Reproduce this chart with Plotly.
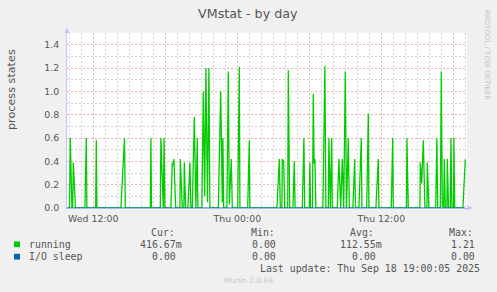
import plotly.graph_objects as go

# ---- data ----
running_time = [
    "2025-09-17 09:50", "2025-09-17 10:01", "2025-09-17 10:05", "2025-09-17 10:13", "2025-09-17 10:17",
    "2025-09-17 10:20", "2025-09-17 10:31", "2025-09-17 11:18", "2025-09-17 11:25", "2025-09-17 11:28",
    "2025-09-17 12:12", "2025-09-17 12:15", "2025-09-17 12:18", "2025-09-17 14:18", "2025-09-17 14:36",
    "2025-09-17 14:40", "2025-09-17 16:45", "2025-09-17 16:48", "2025-09-17 16:51", "2025-09-17 17:35",
    "2025-09-17 17:38", "2025-09-17 17:50", "2025-09-17 17:54", "2025-09-17 17:58", "2025-09-17 18:28",
    "2025-09-17 18:35", "2025-09-17 18:39", "2025-09-17 18:43", "2025-09-17 18:52", "2025-09-17 19:13",
    "2025-09-17 19:15", "2025-09-17 19:25", "2025-09-17 19:33", "2025-09-17 19:35", "2025-09-17 19:42",
    "2025-09-17 19:53", "2025-09-17 20:03", "2025-09-17 20:08", "2025-09-17 20:15", "2025-09-17 20:25",
    "2025-09-17 20:33", "2025-09-17 20:40", "2025-09-17 20:43", "2025-09-17 21:03", "2025-09-17 21:10",
    "2025-09-17 21:17", "2025-09-17 21:23", "2025-09-17 21:31", "2025-09-17 21:38", "2025-09-17 21:43",
    "2025-09-17 22:25", "2025-09-17 22:37", "2025-09-17 22:45", "2025-09-17 22:48", "2025-09-17 22:52",
    "2025-09-17 23:08", "2025-09-17 23:15", "2025-09-17 23:20", "2025-09-17 23:30", "2025-09-17 23:35",
    "2025-09-18 00:02", "2025-09-18 00:10", "2025-09-18 00:13", "2025-09-18 00:52", "2025-09-18 01:00",
    "2025-09-18 01:03", "2025-09-18 03:18", "2025-09-18 03:30", "2025-09-18 03:35", "2025-09-18 03:43",
    "2025-09-18 03:45", "2025-09-18 03:52", "2025-09-18 03:57", "2025-09-18 04:12", "2025-09-18 04:15",
    "2025-09-18 04:22", "2025-09-18 04:38", "2025-09-18 04:45", "2025-09-18 04:49", "2025-09-18 05:25",
    "2025-09-18 05:33", "2025-09-18 05:37", "2025-09-18 06:00", "2025-09-18 06:03", "2025-09-18 06:06",
    "2025-09-18 06:16", "2025-09-18 06:20", "2025-09-18 06:24", "2025-09-18 06:28", "2025-09-18 06:33",
    "2025-09-18 07:08", "2025-09-18 07:18", "2025-09-18 07:23", "2025-09-18 07:35", "2025-09-18 07:38",
    "2025-09-18 07:45", "2025-09-18 07:52", "2025-09-18 07:55", "2025-09-18 08:20", "2025-09-18 08:28",
    "2025-09-18 08:37", "2025-09-18 08:45", "2025-09-18 08:52", "2025-09-18 09:00", "2025-09-18 09:06",
    "2025-09-18 09:15", "2025-09-18 09:20", "2025-09-18 09:38", "2025-09-18 09:47", "2025-09-18 09:51",
    "2025-09-18 10:08", "2025-09-18 10:20", "2025-09-18 10:23", "2025-09-18 10:47", "2025-09-18 10:55",
    "2025-09-18 10:58", "2025-09-18 11:33", "2025-09-18 11:45", "2025-09-18 11:48", "2025-09-18 12:50",
    "2025-09-18 12:57", "2025-09-18 13:00", "2025-09-18 14:06", "2025-09-18 14:08", "2025-09-18 14:15",
    "2025-09-18 15:13", "2025-09-18 15:15", "2025-09-18 15:22", "2025-09-18 15:30", "2025-09-18 15:38",
    "2025-09-18 15:48", "2025-09-18 15:50", "2025-09-18 15:58", "2025-09-18 16:32", "2025-09-18 16:38",
    "2025-09-18 16:42", "2025-09-18 16:55", "2025-09-18 17:00", "2025-09-18 17:05", "2025-09-18 17:12",
    "2025-09-18 17:15", "2025-09-18 17:20", "2025-09-18 17:28", "2025-09-18 17:30", "2025-09-18 17:36",
    "2025-09-18 17:45", "2025-09-18 17:48", "2025-09-18 17:53", "2025-09-18 18:01", "2025-09-18 18:03",
    "2025-09-18 18:07", "2025-09-18 18:48", "2025-09-18 19:00",
]
running_vals = [
    0, 0, 0.60, 0, 0,
    0.39, 0, 0, 0.60, 0,
    0, 0.58, 0, 0, 0.60,
    0, 0, 0.60, 0, 0,
    0.60, 0, 0.60, 0, 0,
    0.39, 0.37, 0.42, 0, 0,
    0.42, 0, 0, 0.39, 0,
    0, 0.39, 0, 0, 0.78,
    0, 0.60, 0, 0, 1.00,
    0.10, 1.20, 0.05, 1.20, 0,
    0, 1.00, 0.05, 0.60, 0,
    0, 1.17, 0.03, 0.42, 0,
    0, 1.21, 0, 0, 0.58,
    0, 0, 0.42, 0, 0,
    0.42, 0.40, 0, 0, 1.18,
    0, 0, 0.40, 0, 0,
    0.60, 0, 0, 0.39, 0,
    0, 0.98, 0.38, 0.42, 0,
    0, 1.22, 0, 0, 0.60,
    0, 0.60, 0, 0, 0.42,
    0, 0.42, 0, 1.17, 0,
    0.60, 0, 0, 0.42, 0,
    0, 0.60, 0, 0, 0.81,
    0, 0, 0.42, 0, 0,
    0.60, 0, 0, 0.60, 0,
    0, 0.39, 0.21, 0.58, 0,
    0, 0.39, 0, 0, 0.60,
    0, 0, 1.17, 0.03, 0,
    0.42, 0, 0, 0.42, 0,
    0, 0.60, 0, 0, 0.60,
    0, 0, 0.4167,
]
io_time = ["2025-09-17 09:50", "2025-09-18 19:00"]
io_vals = [0.0, 0.0]

x_range = ["2025-09-17 09:48:30", "2025-09-18 19:08:30"]
x_tick_vals = ["2025-09-17 12:00", "2025-09-17 18:00", "2025-09-18 00:00",
               "2025-09-18 06:00", "2025-09-18 12:00", "2025-09-18 18:00"]
x_tick_text = ["Wed 12:00", "", "Thu 00:00", "", "Thu 12:00", ""]
y_tick_vals = [0.0, 0.2, 0.4, 0.6, 0.8, 1.0, 1.2, 1.4]
y_tick_text = ["0.0", "0.2", "0.4", "0.6", "0.8", "1.0", "1.2", "1.4"]

series_names = ["running", "I/O sleep"]
series_colors = ["#00CC00", "#0066B3"]
stat_headers = ["Cur:", "Min:", "Avg:", "Max:"]
stat_cur = ["416.67m", "0.00"]
stat_min = ["0.00", "0.00"]
stat_avg = ["112.55m", "0.00"]
stat_max = ["1.21", "0.00"]
last_update = "Last update: Thu Sep 18 19:00:05 2025"
version_text = "Munin 2.0.69"

# ---- layout geometry (pixels) ----
W, H = 497, 292
L, R, T, B = 67, 30, 33, 84
PW, PH = W - L - R, H - T - B

def px(x):
    return (x - L) / PW

def py(y):
    return (H - B - y) / PH

SANS = "DejaVu Sans"
MONO = "DejaVu Sans Mono"
TXT = "#555555"
MAJ = "#efb0b0"
MIN = "#d4d4d4"

fig = go.Figure()
fig.add_trace(go.Scatter(x=running_time, y=running_vals, mode="lines",
                         line=dict(color=series_colors[0], width=1.3),
                         name=series_names[0], hoverinfo="skip"))
fig.add_trace(go.Scatter(x=io_time, y=io_vals, mode="lines",
                         line=dict(color=series_colors[1], width=1.2),
                         name=series_names[1], hoverinfo="skip"))

fig.update_xaxes(
    type="date", range=x_range, tickmode="array", tickvals=x_tick_vals, ticktext=x_tick_text,
    showgrid=True, gridcolor=MAJ, griddash="2px,2px", gridwidth=1,
    minor=dict(dtick=3600000, tick0="2025-09-17 00:00", showgrid=True,
               gridcolor=MIN, griddash="2px,2px", gridwidth=1, ticks=""),
    ticks="", ticklabelstandoff=2,
    tickfont=dict(family=SANS, size=9.4, color=TXT),
    showline=True, linecolor="#a9b9ec", linewidth=1, zeroline=False, fixedrange=True,
)
fig.update_yaxes(
    range=[0, 1.5], tickmode="array", tickvals=y_tick_vals, ticktext=y_tick_text,
    showgrid=True, gridcolor=MAJ, griddash="2px,2px", gridwidth=1,
    minor=dict(dtick=0.1, tick0=0, showgrid=True, gridcolor=MIN,
               griddash="2px,2px", gridwidth=1, ticks=""),
    ticks="", ticklabelstandoff=5,
    tickfont=dict(family=SANS, size=9.4, color=TXT),
    showline=True, linecolor="#c4c6f2", linewidth=1, zeroline=False, fixedrange=True,
)

ann = []
def text(x, y, s, size, color=TXT, family=MONO, xanchor="left", angle=0):
    ann.append(dict(x=px(x), y=py(y), xref="paper", yref="paper", text=s, showarrow=False,
                    xanchor=xanchor, yanchor="middle", textangle=angle,
                    font=dict(family=family, size=size, color=color)))

text(248, 13.5, "VMstat - by day", 12.7, color="#555555", family=SANS, xanchor="center")
text(11, 89, "process states", 11.2, color="#555555", family=SANS, xanchor="center", angle=-90)
text(487, 55, "RRDTOOL / TOBI OETIKER", 7, color="#c4c4c4", family=SANS, xanchor="center", angle=90)

header_x = [149, 249, 348.3, 446.7]
col_end = [178.3, 278.3, 377.5, 476.7]
for hx, h in zip(header_x, stat_headers):
    text(hx, 232.7, h, 9.9)
row_y = [244.3, 256.7]
shapes = []
for i, name in enumerate(series_names):
    text(26.7, row_y[i], name, 9.9)
    shapes.append(dict(type="rect", xref="paper", yref="paper",
                       x0=px(14), x1=px(20), y0=py(row_y[i] - 2.9), y1=py(row_y[i] + 2.9),
                       fillcolor=series_colors[i], line=dict(width=0)))
    for c, vals in enumerate([stat_cur, stat_min, stat_avg, stat_max]):
        v = vals[i]
        end = col_end[c] + (6 if v.endswith("m") else 0)
        text(end, row_y[i], v, 9.9, xanchor="right")
text(482.3, 268.7, last_update, 9.9, xanchor="right")
text(248, 280.7, version_text, 7.5, color="#c8c8c8", family=SANS, xanchor="center")

# axis arrows
ax_col = "#c4c6f2"
shapes.append(dict(type="path", xref="paper", yref="paper",
                   path=f"M {px(64.5)} {py(33)} L {px(69.5)} {py(33)} L {px(67)} {py(27.5)} Z",
                   fillcolor=ax_col, line=dict(width=0)))
shapes.append(dict(type="path", xref="paper", yref="paper",
                   path=f"M {px(467)} {py(205.5)} L {px(467)} {py(210.5)} L {px(473)} {py(208)} Z",
                   fillcolor=ax_col, line=dict(width=0)))

fig.update_layout(
    width=W, height=H, margin=dict(l=L, r=R, t=T, b=B, pad=0),
    paper_bgcolor="#F0F0F0", plot_bgcolor="#FFFFFF",
    showlegend=False, annotations=ann, shapes=shapes,
)
fig.write_html("out.html", config={"displayModeBar": False})
